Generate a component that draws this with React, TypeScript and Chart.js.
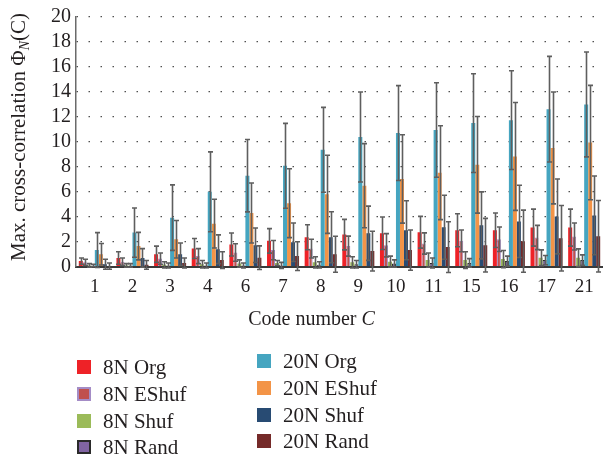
import React, { useEffect, useRef } from "react";
import { Chart, registerables } from "chart.js";

Chart.register(...registerables);

const categories = ["1", "2", "3", "4", "6", "7", "8", "9", "10", "11", "15", "16", "17", "21"];

const org8 = [0.45, 0.7, 1.0, 1.46, 1.78, 2.07, 2.36, 2.57, 2.68, 2.76, 2.92, 2.92, 3.13, 3.13];
const org8Err = [0.25, 0.5, 0.65, 0.8, 0.92, 0.98, 1.0, 1.22, 1.3, 1.27, 1.32, 1.38, 1.48, 1.48];
const eshuf8 = [0.35, 0.4, 0.65, 0.85, 1.14, 1.33, 1.45, 1.65, 1.72, 1.86, 2.07, 2.2, 2.34, 2.42];
const eshuf8Err = [0.25, 0.3, 0.45, 0.6, 0.7, 0.77, 0.75, 0.8, 0.93, 0.85, 0.87, 0.98, 0.97, 1.08];
const shuf8 = [0.1, 0.1, 0.15, 0.2, 0.25, 0.3, 0.35, 0.35, 0.4, 0.53, 0.53, 0.61, 0.72, 0.72];
const shuf8Err = [0.15, 0.15, 0.25, 0.3, 0.3, 0.2, 0.45, 0.45, 0.45, 0.57, 0.67, 0.69, 0.63, 0.71];
const rand8 = [0.1, 0.1, 0.1, 0.1, 0.1, 0.1, 0.15, 0.2, 0.25, 0.3, 0.3, 0.45, 0.53, 0.53];
const rand8Err = [0.1, 0.15, 0.2, 0.2, 0.2, 0.25, 0.25, 0.3, 0.3, 0.4, 0.35, 0.4, 0.37, 0.42];
const org20 = [1.33, 2.73, 3.93, 6.0, 7.29, 8.08, 9.36, 10.39, 10.7, 10.95, 11.5, 11.74, 12.62, 13.0];
const org20Err = [1.4, 1.97, 2.62, 3.2, 2.9, 3.4, 3.4, 3.6, 3.8, 3.78, 3.95, 3.96, 4.23, 4.2];
const eshuf20 = [1.0, 1.65, 2.2, 3.45, 4.3, 5.09, 5.8, 6.49, 7.03, 7.53, 8.16, 8.83, 9.51, 9.94];
const eshuf20Err = [0.86, 1.1, 1.5, 1.95, 2.4, 2.76, 3.13, 3.37, 3.54, 3.76, 3.87, 4.32, 4.48, 4.58];
const shuf20 = [0.2, 0.7, 1.0, 1.4, 1.72, 1.96, 2.36, 2.68, 2.92, 3.16, 3.31, 3.63, 4.03, 4.11];
const shuf20Err = [0.4, 0.75, 0.9, 1.15, 1.38, 1.54, 2.04, 2.17, 2.36, 2.56, 2.68, 2.89, 3.0, 3.15];
const rand20 = [0.05, 0.15, 0.3, 0.53, 0.72, 0.85, 1.0, 1.25, 1.33, 1.57, 1.72, 2.04, 2.28, 2.44];
const rand20Err = [0.25, 0.35, 0.4, 0.67, 0.95, 1.15, 1.44, 1.59, 1.61, 2.03, 2.15, 2.49, 2.62, 2.86];

const yMin = 0;
const yMax = 20;
const yStep = 2;

const FONT = "'Liberation Serif', 'DejaVu Serif', serif";
const TEXT = "#231f20";

const series = [
  { label: "8N Org", data: org8, err: org8Err, color: "#ee2227", border: "#ee2227", bw: 0 },
  { label: "8N EShuf", data: eshuf8, err: eshuf8Err, color: "#c0504d", border: "#a48cc6", bw: 1 },
  { label: "8N Shuf", data: shuf8, err: shuf8Err, color: "#9bbb59", border: "#9bbb59", bw: 0 },
  { label: "8N Rand", data: rand8, err: rand8Err, color: "#8064a2", border: "#2a2a2a", bw: 1 },
  { label: "20N Org", data: org20, err: org20Err, color: "#45a5c0", border: "#45a5c0", bw: 0 },
  { label: "20N EShuf", data: eshuf20, err: eshuf20Err, color: "#f39447", border: "#f39447", bw: 0 },
  { label: "20N Shuf", data: shuf20, err: shuf20Err, color: "#284b73", border: "#284b73", bw: 0 },
  { label: "20N Rand", data: rand20, err: rand20Err, color: "#752a29", border: "#752a29", bw: 0 },
];

const errorBarPlugin = {
  id: "errorBars",
  afterDatasetsDraw(chart: any) {
    const ctx = chart.ctx;
    const y = chart.scales.y;
    ctx.save();
    ctx.strokeStyle = "#5e5e5e";
    ctx.lineWidth = 1.6;
    chart.data.datasets.forEach((ds: any, i: number) => {
      const meta = chart.getDatasetMeta(i);
      meta.data.forEach((bar: any, j: number) => {
        const v = ds.data[j];
        const e = ds.errors[j];
        const x = Math.round(bar.x) + 0.5;
        const yt = y.getPixelForValue(v + e);
        const yb = y.getPixelForValue(v - e);
        ctx.beginPath();
        ctx.moveTo(x, yt);
        ctx.lineTo(x, yb);
        ctx.moveTo(x - 2.5, yt);
        ctx.lineTo(x + 2.5, yt);
        ctx.moveTo(x - 2.5, yb);
        ctx.lineTo(x + 2.5, yb);
        ctx.stroke();
      });
    });
    ctx.restore();
  },
};

const titlesPlugin = {
  id: "titles",
  afterDraw(chart: any) {
    const ctx = chart.ctx;
    ctx.save();
    ctx.fillStyle = TEXT;
    // x-axis title
    const f1 = `20px ${FONT}`;
    const f2 = `italic 20px ${FONT}`;
    ctx.font = f1;
    const a = "Code number ";
    const wa = ctx.measureText(a).width;
    ctx.font = f2;
    const wb = ctx.measureText("C").width;
    const xs = 311.5 - (wa + wb) / 2;
    ctx.textBaseline = "alphabetic";
    ctx.textAlign = "left";
    ctx.font = f1;
    ctx.fillText(a, xs, 325);
    ctx.font = f2;
    ctx.fillText("C", xs + wa, 325);

    // y-axis title (rotated) with subscript
    const fm = `21px ${FONT}`;
    const fs = `italic 14px ${FONT}`;
    const p1 = "Max. cross-correlation Φ";
    const p2 = "N";
    const p3 = "(C)";
    ctx.font = fm;
    const w1 = ctx.measureText(p1).width;
    const w3 = ctx.measureText(p3).width;
    ctx.font = fs;
    const w2 = ctx.measureText(p2).width;
    const total = w1 + w2 + w3;
    ctx.translate(25, 137);
    ctx.rotate(-Math.PI / 2);
    let cx = -total / 2;
    ctx.font = fm;
    ctx.fillText(p1, cx, 0);
    cx += w1;
    ctx.font = fs;
    ctx.fillText(p2, cx, 4);
    cx += w2;
    ctx.font = fm;
    ctx.fillText(p3, cx, 0);
    ctx.restore();
  },
};

const legendLeft = [0, 1, 2, 3];
const legendRight = [4, 5, 6, 7];

export default function App() {
  const ref = useRef<HTMLCanvasElement | null>(null);

  useEffect(() => {
    document.body.style.margin = "0";
    const canvas = ref.current;
    if (!canvas) return;
    const chart = new Chart(canvas, {
      type: "bar",
      data: {
        labels: categories,
        datasets: series.map((s) => ({
          label: s.label,
          data: s.data,
          errors: s.err,
          backgroundColor: s.color,
          borderColor: s.border,
          borderWidth: s.bw,
          categoryPercentage: 0.851,
          barPercentage: 1.0,
        })) as any,
      },
      options: {
        responsive: false,
        animation: false,
        devicePixelRatio: 1,
        layout: { padding: { top: 15, left: 0, right: 0, bottom: 0 } },
        plugins: {
          legend: { display: false },
          tooltip: { enabled: false },
        },
        scales: {
          x: {
            grid: { display: false, drawTicks: false },
            border: { display: true, color: "#3a3a3a", width: 2 },
            ticks: {
              color: TEXT,
              font: { family: FONT, size: 19 },
              padding: 9,
              maxRotation: 0,
              autoSkip: false,
            },
            afterFit: (scale: any) => {
              scale.height = 191.3;
            },
          },
          y: {
            min: yMin,
            max: yMax,
            grid: { color: "#505050", lineWidth: 1.2, drawTicks: false },
            border: { display: true, color: "#6a6a6a", width: 1.5, dash: [1.5, 10.5] },
            ticks: {
              stepSize: yStep,
              autoSkip: false,
              color: TEXT,
              font: { family: FONT, size: 20 },
              padding: 5,
            },
            afterFit: (scale: any) => {
              scale.width = 76;
            },
          },
        },
      },
      plugins: [errorBarPlugin, titlesPlugin],
    });
    return () => chart.destroy();
  }, []);

  const legendItem = (idx: number, left: number, cy: number) => {
    const s = series[idx];
    return (
      <div key={s.label} style={{ position: "absolute", left, top: cy - 12, height: 24, display: "flex", alignItems: "center" }}>
        <div
          style={{
            width: 14,
            height: 14,
            boxSizing: "border-box",
            background: s.color,
            border: s.bw ? `2px solid ${s.border}` : "none",
          }}
        />
        <span style={{ marginLeft: 12, fontFamily: FONT, fontSize: 21, color: TEXT, lineHeight: "24px", whiteSpace: "nowrap" }}>
          {s.label}
        </span>
      </div>
    );
  };

  const leftY = [367, 394, 420.7, 446.7];
  const rightY = [361, 387.7, 415, 441];

  return (
    <div style={{ position: "relative", width: 603, height: 458, overflow: "hidden", background: "#fff" }}>
      <canvas ref={ref} width={603} height={458} style={{ position: "absolute", left: 0, top: 0 }} />
      {legendLeft.map((idx, k) => legendItem(idx, 77, leftY[k]))}
      {legendRight.map((idx, k) => legendItem(idx, 257, rightY[k]))}
    </div>
  );
}
